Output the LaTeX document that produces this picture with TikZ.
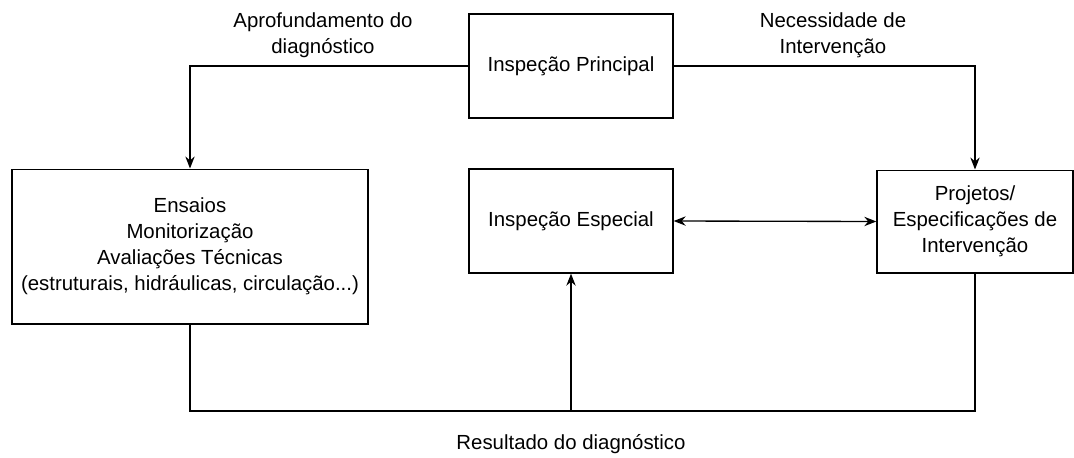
\documentclass[tikz,border=0pt]{standalone}
\usepackage{fontspec}
\setmainfont{Liberation Sans}
\usetikzlibrary{arrows.meta, calc, positioning}
\tikzstyle{block} = [draw, line width=1pt, align=center, inner sep=2pt]
\tikzstyle{lbl} = [align=center, inner sep=0pt]

\begin{document}
\begin{tikzpicture}[>={Stealth[length=9pt, width=7pt]}, x=0.75pt, y=-0.75pt, line width=1pt,
        font=\fontsize{15.3}{19.5}\selectfont]
        \useasboundingbox (0,0) rectangle (1074,457);
        \node[block, minimum width=153pt, minimum height=78pt] (principal) at (571,66) {Inspeção Principal};
        \node[block, minimum width=267pt, minimum height=116pt] (ensaios) at (190,246.5) {Ensaios\\Monitorização\\Avaliações Técnicas\\(estruturais, hidráulicas, circulação...)};
        \node[block, minimum width=153pt, minimum height=78pt] (especial) at (571,221) {Inspeção Especial};
        \node[block, minimum width=147pt, minimum height=77pt] (projetos) at (975,221.5) {Projetos/\\Especificações de\\Intervenção};

        \node[lbl] (aprof) at (323,35) {Aprofundamento do\\diagnóstico};
        \node[lbl] (necess) at (833,35) {Necessidade de\\Intervenção};

        \draw[->] (principal.west) -| (ensaios.north);
        \draw[->] (principal.east) -| (projetos.north);
        \draw[<->] (especial.east) -- (projetos.west);

        \coordinate (junction) at (especial.south |- 0,411);
        \draw (ensaios.south) |- (junction) -| (projetos.south);
        \draw[->] (junction) -- (especial.south);
        \node[lbl, below=17pt of junction] (result) {Resultado do diagnóstico};
    \end{tikzpicture}
\end{document}
